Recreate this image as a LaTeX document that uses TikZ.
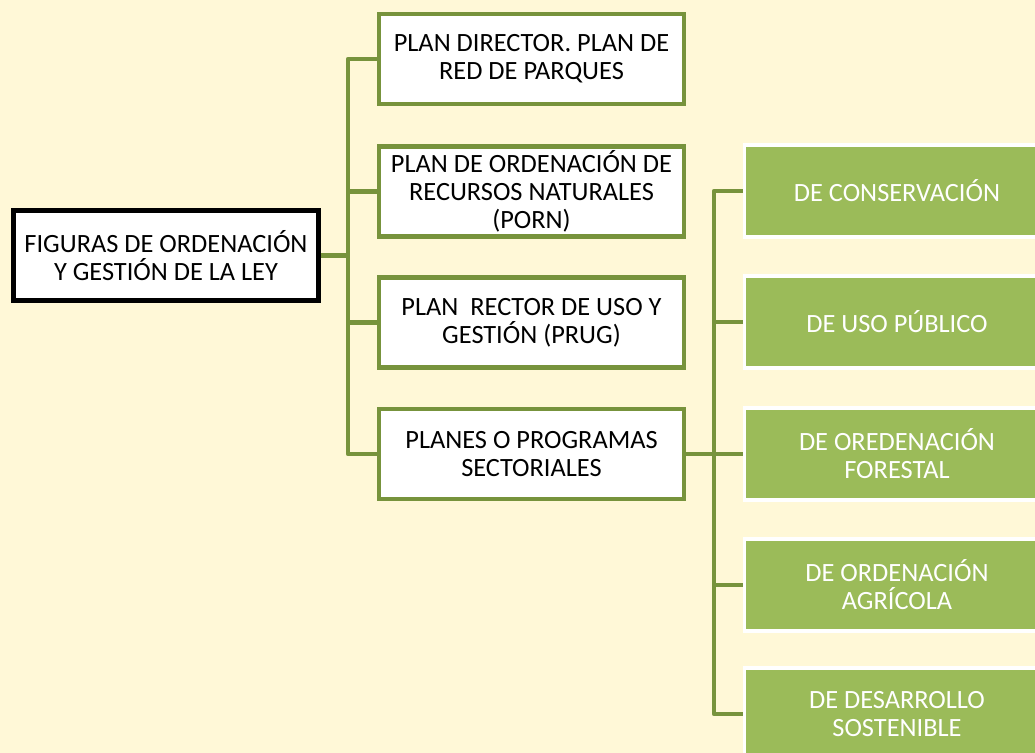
\documentclass[tikz,border=0pt]{standalone}
\usepackage{fontspec}
\setmainfont{Carlito}
\usetikzlibrary{positioning}
\definecolor{bgyellow}{HTML}{FFF8D7}
\definecolor{oliveline}{HTML}{77933C}
\definecolor{olivefill}{HTML}{9BBB59}
\tikzset{}

\begin{document}
\begin{tikzpicture}[x=0.02cm,y=-0.02cm]
            \tikzset{
                fig node/.style={rectangle,draw=black,line width=2.6pt,fill=white,minimum width=6.1cm,minimum height=1.8cm,inner sep=0,align=center,font=\fontsize{15}{16}\selectfont},
                plan node/.style={rectangle,draw=oliveline,line width=2.4pt,fill=white,minimum width=6.1cm,minimum height=1.8cm,inner sep=0,align=center,font=\fontsize{15}{16}\selectfont},
                sub node/.style={rectangle,draw=white,line width=2pt,fill=olivefill,text=white,minimum width=6.1cm,minimum height=1.84cm,inner sep=0,align=center,font=\fontsize{15}{16}\selectfont},
                link/.style={draw=oliveline,line width=2.4pt,line join=round}
            }
            \useasboundingbox (0,0) rectangle (1035,753);
            \clip (0,0) rectangle (1035,753);
            \fill[bgyellow] (0,0) rectangle (1035,753);
            \coordinate (j1) at (348,255.5);
            \coordinate (j2) at (714,454);
            \node[fig node] (fig) at (166,255.5) {FIGURAS DE ORDENACIÓN\\Y GESTIÓN DE LA LEY};
            \node[plan node] (p1) at (531.5,59) {PLAN DIRECTOR. PLAN DE\\RED DE PARQUES};
            \node[plan node] (p2) at (531.5,191.5) {PLAN DE ORDENACIÓN DE\\RECURSOS NATURALES\\(PORN)};
            \node[plan node] (p3) at (531.5,322.5) {PLAN\ \ RECTOR DE USO Y\\GESTIÓN (PRUG)};
            \node[plan node] (p4) at (531.5,454) {PLANES O PROGRAMAS\\SECTORIALES};
            \node[sub node] (s1) at (897,191) {DE CONSERVACIÓN};
            \node[sub node] (s2) at (897,322) {DE USO PÚBLICO};
            \node[sub node] (s3) at (897,454) {DE OREDENACIÓN\\FORESTAL};
            \node[sub node] (s4) at (897,585) {DE ORDENACIÓN\\AGRÍCOLA};
            \node[sub node] (s5) at (897,714) {DE DESARROLLO\\SOSTENIBLE};
            % elbow connectors
            \foreach \n in {p1,p2,p3,p4}
                \path[link] (fig.east) -- (j1) |- (\n.west);
            \foreach \n in {s1,s2,s3,s4,s5}
                \path[link] (p4.east) -- (j2) |- (\n.west);
\end{tikzpicture}
\end{document}
